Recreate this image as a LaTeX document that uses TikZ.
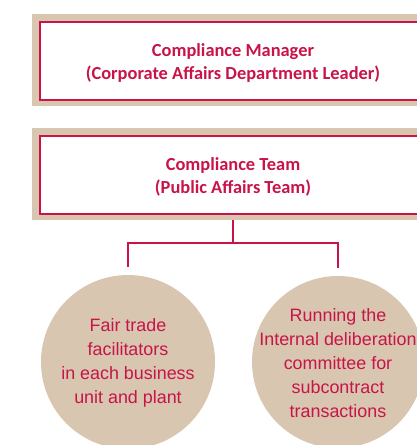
\documentclass[tikz,border=0pt]{standalone}
\usepackage{fontspec}
\setmainfont{Liberation Sans}
\newfontfamily\boxfont{Carlito}
\definecolor{crim}{RGB}{200,20,72}
\definecolor{tan}{RGB}{216,198,176}
\tikzset{
  outerbox/.style={fill=tan, draw=none, minimum width=420pt, minimum height=92pt, anchor=north west, inner sep=0pt},
  innerbox/.style={fill=white, draw=crim, line width=2pt, minimum width=420pt, minimum height=78pt, anchor=north west, inner sep=0pt},
  boxtext/.style={text=crim, font=\boxfont\bfseries\fontsize{18.4}{23}\selectfont, align=center, inner sep=0pt},
  disc/.style={circle, fill=tan, inner sep=0pt},
  disctext/.style={text=crim, font=\fontsize{17.9}{24}\selectfont, align=center, inner sep=0pt},
  link/.style={draw=crim, line width=1.4pt}
}
\begin{document}
\begin{tikzpicture}[x=1pt,y=-1pt]
\useasboundingbox (0,0) rectangle (417,445);
\clip (0,0) rectangle (417,445);
% box 1
\node[outerbox] (mo) at (32,14) {};
\node[innerbox] (mi) at (39,21) {};
\node[boxtext] (mt) at (233,63) {Compliance Manager\\(Corporate Affairs Department Leader)};
% box 2
\node[outerbox] (to) at (32,128) {};
\node[innerbox] (ti) at (39,135) {};
\node[boxtext] (tt) at (233,176.5) {Compliance Team\\(Public Affairs Team)};
% circles
\node[disc, minimum size=174pt] (c1) at (128,362) {};
\node[disc, minimum size=172pt] (c2) at (338,362) {};
\node[disctext] (c1t) at (128,363) {Fair trade\\facilitators\\in each business\\unit and plant};
\node[disctext] (c2t) at (338,363) {Running the\\Internal deliberation\\committee for\\subcontract\\transactions};
% connectors
\coordinate (top) at (233,220);
\coordinate (bar) at (233,243);
\coordinate (e1) at ([yshift=8pt]c1.north);
\coordinate (e2) at ([yshift=8pt]c2.north);
\draw[link] (top) -- (bar);
\draw[link] (e1) |- (bar) -| (e2);
\end{tikzpicture}
\end{document}
